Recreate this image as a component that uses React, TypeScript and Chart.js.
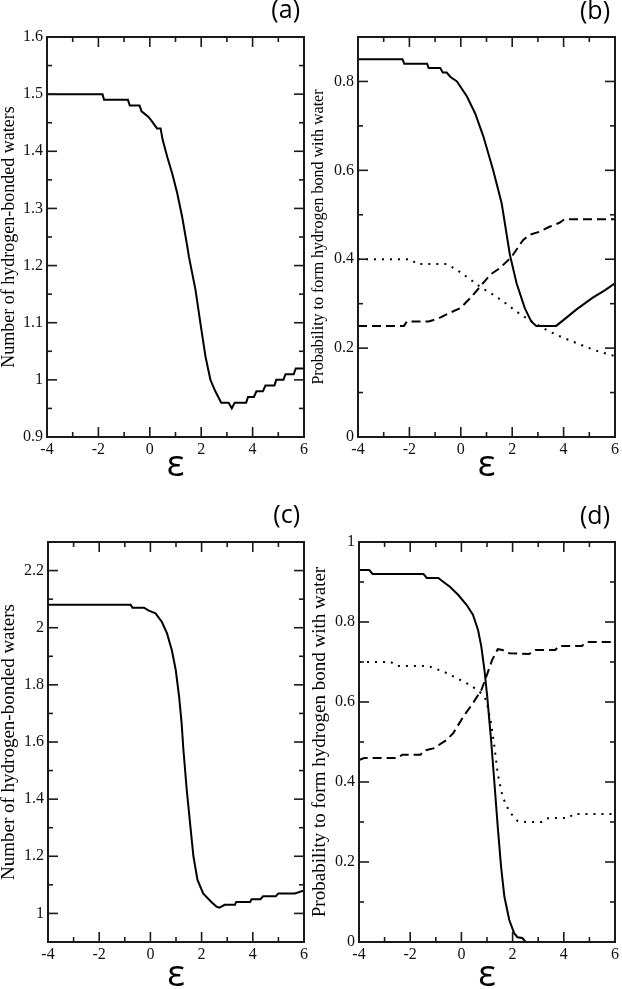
import React, { useEffect, useRef } from "react";
import { Chart, registerables } from "chart.js";

Chart.register(...registerables);

const SERIF = '"Liberation Serif", "Times New Roman", serif';
Chart.defaults.font.family = SERIF;
Chart.defaults.font.size = 16;
Chart.defaults.color = "#111";

// ---------- data ----------
const xTickLabels = [-4, -2, 0, 2, 4, 6];

// (a)
const aEps = [-4, -2, -1.84, -1.78, -0.85, -0.78, -0.4, -0.32, -0.05, 0.12, 0.28, 0.42, 0.5, 0.68, 0.88, 1.07, 1.26, 1.46, 1.52, 1.78, 1.97, 2.17, 2.36, 2.55, 2.78, 3.07, 3.19, 3.3, 3.75, 3.82, 4.05, 4.15, 4.4, 4.5, 4.85, 4.92, 5.2, 5.28, 5.6, 5.68, 6];
const aNum = [1.5, 1.5, 1.5, 1.49, 1.49, 1.48, 1.48, 1.47, 1.46, 1.45, 1.44, 1.44, 1.42, 1.39, 1.36, 1.326, 1.285, 1.233, 1.216, 1.157, 1.099, 1.04, 1.0, 0.98, 0.96, 0.96, 0.95, 0.96, 0.96, 0.97, 0.97, 0.98, 0.98, 0.99, 0.99, 1.0, 1.0, 1.01, 1.01, 1.02, 1.02];
const aYLabels = [0.9, 1, 1.1, 1.2, 1.3, 1.4, 1.5, 1.6];

// (b)
const bSolidEps = [-4, -2.27, -2.2, -1.31, -1.25, -0.8, -0.7, -0.55, -0.4, -0.15, 0.24, 0.56, 0.88, 1.26, 1.59, 1.91, 2.17, 2.49, 2.74, 2.94, 3.71, 4.1, 4.48, 5.12, 5.6, 6];
const bSolid = [0.85, 0.85, 0.84, 0.84, 0.83, 0.83, 0.82, 0.82, 0.81, 0.8, 0.766, 0.728, 0.676, 0.6, 0.526, 0.41, 0.346, 0.29, 0.26, 0.25, 0.25, 0.268, 0.286, 0.313, 0.33, 0.346];
const bDashEps = [-4, -2.21, -2.1, -1.25, -0.86, -0.41, -0.02, 0.36, 0.75, 1.14, 1.52, 1.97, 2.42, 2.68, 3.07, 3.45, 3.84, 4.03, 6];
const bDash = [0.25, 0.25, 0.26, 0.26, 0.267, 0.28, 0.29, 0.312, 0.338, 0.365, 0.38, 0.405, 0.443, 0.455, 0.462, 0.473, 0.482, 0.49, 0.49];
const bDotEps = [-4, -1.95, -1.7, -0.54, -0.15, 0.24, 0.75, 1.26, 1.65, 2.17, 2.68, 3.2, 3.71, 4.22, 4.86, 5.38, 6];
const bDot = [0.4, 0.4, 0.389, 0.389, 0.376, 0.36, 0.338, 0.32, 0.305, 0.282, 0.263, 0.245, 0.23, 0.218, 0.203, 0.192, 0.182];
const bYLabels = [0, 0.2, 0.4, 0.6, 0.8];

// (c)
const cEps = [-4, -0.77, -0.7, -0.25, -0.06, 0.2, 0.45, 0.65, 0.84, 0.99, 1.12, 1.22, 1.29, 1.42, 1.55, 1.68, 1.84, 2.06, 2.38, 2.58, 2.7, 2.9, 3.3, 3.35, 3.9, 3.95, 4.3, 4.4, 4.9, 5.0, 5.65, 6];
const cNum = [2.08, 2.08, 2.07, 2.07, 2.06, 2.05, 2.02, 1.98, 1.92, 1.852, 1.76, 1.665, 1.572, 1.432, 1.315, 1.2, 1.117, 1.07, 1.04, 1.024, 1.02, 1.03, 1.03, 1.04, 1.04, 1.05, 1.05, 1.06, 1.06, 1.07, 1.07, 1.08];
const cYLabels = [1, 1.2, 1.4, 1.6, 1.8, 2, 2.2];

// (d)
const dSolidEps = [-4, -3.6, -3.47, -1.48, -1.35, -0.9, -0.7, -0.45, -0.13, 0.2, 0.45, 0.65, 0.78, 0.9, 1.01, 1.1, 1.16, 1.29, 1.42, 1.55, 1.68, 1.87, 2.06, 2.19, 2.38, 2.51, 6];
const dSolid = [0.93, 0.93, 0.92, 0.92, 0.91, 0.91, 0.9, 0.888, 0.868, 0.843, 0.818, 0.78, 0.738, 0.68, 0.613, 0.547, 0.505, 0.397, 0.288, 0.188, 0.113, 0.055, 0.022, 0.012, 0.01, 0, 0];
const dDashEps = [-4, -3.8, -2.5, -2.31, -1.6, -1.48, -1.09, -0.77, -0.58, -0.32, 0.07, 0.45, 0.78, 0.97, 1.2, 1.42, 1.61, 1.87, 2.64, 2.9, 3.67, 3.8, 4.7, 4.89, 6];
const dDash = [0.455, 0.46, 0.46, 0.468, 0.468, 0.478, 0.484, 0.497, 0.505, 0.522, 0.563, 0.597, 0.63, 0.663, 0.705, 0.732, 0.73, 0.722, 0.72, 0.73, 0.73, 0.74, 0.74, 0.75, 0.75];
const dDotEps = [-4, -2.76, -2.5, -1.48, -1.22, -0.7, -0.19, 0.32, 0.71, 0.97, 1.16, 1.29, 1.42, 1.61, 1.87, 2.19, 2.51, 3.15, 3.41, 4.19, 4.38, 6];
const dDot = [0.7, 0.7, 0.69, 0.69, 0.688, 0.676, 0.66, 0.643, 0.626, 0.605, 0.547, 0.488, 0.42, 0.363, 0.326, 0.303, 0.3, 0.3, 0.31, 0.31, 0.32, 0.32];
const dYLabels = [0, 0.2, 0.4, 0.6, 0.8, 1];

const titleNum = "Number of hydrogen-bonded waters";
const titleProb = "Probability to form hydrogen bond with water";

// ---------- styles ----------
const SOLID: number[] = [];
const DASHED = [9, 5];
const DOTTED = [2, 6];

type Series = { eps: number[]; vals: number[]; dash: number[] };
type Spec = {
  letter: string;
  left: number;
  top: number;
  w: number;
  h: number;
  area: { left: number; right: number; top: number; bottom: number };
  letterPos: [number, number];
  yMin: number;
  yMax: number;
  yStep: number;
  yLabels: number[];
  yTitle: string;
  yTitleSize: number;
  series: Series[];
};

const panels: Spec[] = [
  {
    letter: "(a)", left: 0, top: 0, w: 311, h: 495,
    area: { left: 47, right: 306, top: 37, bottom: 437 }, letterPos: [300, 11],
    yMin: 0.9, yMax: 1.6, yStep: 0.05, yLabels: aYLabels, yTitle: titleNum, yTitleSize: 18,
    series: [{ eps: aEps, vals: aNum, dash: SOLID }],
  },
  {
    letter: "(b)", left: 311, top: 0, w: 311, h: 495,
    area: { left: 47, right: 306, top: 37, bottom: 437 }, letterPos: [299, 12],
    yMin: 0, yMax: 0.9, yStep: 0.1, yLabels: bYLabels, yTitle: titleProb, yTitleSize: 16,
    series: [
      { eps: bSolidEps, vals: bSolid, dash: SOLID },
      { eps: bDashEps, vals: bDash, dash: DASHED },
      { eps: bDotEps, vals: bDot, dash: DOTTED },
    ],
  },
  {
    letter: "(c)", left: 0, top: 495, w: 311, h: 510,
    area: { left: 48, right: 307, top: 47, bottom: 447 }, letterPos: [300, 21],
    yMin: 0.9, yMax: 2.3, yStep: 0.1, yLabels: cYLabels, yTitle: titleNum, yTitleSize: 19,
    series: [{ eps: cEps, vals: cNum, dash: SOLID }],
  },
  {
    letter: "(d)", left: 311, top: 495, w: 311, h: 510,
    area: { left: 48, right: 307, top: 47, bottom: 447 }, letterPos: [299, 22],
    yMin: 0, yMax: 1, yStep: 0.1, yLabels: dYLabels, yTitle: titleProb, yTitleSize: 19,
    series: [
      { eps: dSolidEps, vals: dSolid, dash: SOLID },
      { eps: dDashEps, vals: dDash, dash: DASHED },
      { eps: dDotEps, vals: dDot, dash: DOTTED },
    ],
  },
];

const FRAME = "#1a1a1a";

const framePlugin = {
  id: "frame",
  afterDraw(chart: any, _args: any, opts: any) {
    const { ctx, chartArea } = chart;
    const { left, right, top, bottom } = chartArea;
    ctx.save();
    ctx.strokeStyle = FRAME;
    ctx.lineWidth = 1.6;
    const seg = (x1: number, y1: number, x2: number, y2: number) => {
      ctx.beginPath();
      ctx.moveTo(x1, y1);
      ctx.lineTo(x2, y2);
      ctx.stroke();
    };
    const xs = chart.scales.x;
    xs.ticks.forEach((t: any) => {
      const px = xs.getPixelForValue(t.value);
      const len = t.label !== "" ? 10 : 5;
      seg(px, bottom, px, bottom - len);
      seg(px, top, px, top + len);
    });
    const ys = chart.scales.y;
    ys.ticks.forEach((t: any) => {
      const py = ys.getPixelForValue(t.value);
      const len = t.label !== "" ? 10 : 5;
      seg(left, py, left + len, py);
      seg(right, py, right - len, py);
    });
    ctx.lineWidth = 2;
    ctx.strokeRect(left, top, right - left, bottom - top);
    ctx.fillStyle = "#000";
    ctx.font = '25px "Open Sans"';
    ctx.textAlign = "right";
    ctx.textBaseline = "middle";
    ctx.fillText(opts.letter, opts.x, opts.y);
    ctx.restore();
  },
};

function labelFor(list: number[], v: number): string {
  const hit = list.find((l) => Math.abs(l - v) < 1e-6);
  return hit === undefined ? "" : String(hit);
}

function Panel({ spec }: { spec: Spec }) {
  const ref = useRef<HTMLCanvasElement | null>(null);
  useEffect(() => {
    if (!ref.current) return;
    const chart = new Chart(ref.current, {
      type: "line",
      data: {
        datasets: spec.series.map((s) => ({
          data: s.eps.map((x, i) => ({ x, y: s.vals[i] })),
          borderColor: "#000",
          borderWidth: 2,
          borderDash: s.dash,
          pointRadius: 0,
          tension: 0,
          fill: false,
        })),
      },
      options: {
        animation: false,
        responsive: false,
        events: [],
        layout: {
          padding: { left: 0, top: spec.area.top, right: spec.w - spec.area.right, bottom: 0 },
        },
        plugins: {
          legend: { display: false },
          tooltip: { enabled: false },
          frame: { letter: spec.letter, x: spec.letterPos[0], y: spec.letterPos[1] },
        } as any,
        scales: {
          x: {
            type: "linear",
            min: -4,
            max: 6,
            afterFit: (s: any) => {
              s.height = spec.h - spec.area.bottom;
            },
            grid: { display: false, drawTicks: false },
            border: { display: false },
            ticks: {
              stepSize: 1,
              autoSkip: false,
              maxRotation: 0,
              padding: 3,
              color: "#111",
              font: { family: SERIF, size: 16 },
              callback: (v: any) => labelFor(xTickLabels, Number(v)),
            },
            title: {
              display: true,
              text: "ε",
              color: "#000",
              font: { family: '"Open Sans", sans-serif', size: 37 },
              padding: { top: 0, bottom: 7 },
            },
          },
          y: {
            type: "linear",
            min: spec.yMin,
            max: spec.yMax,
            afterFit: (s: any) => {
              s.width = spec.area.left;
            },
            grid: { display: false, drawTicks: false },
            border: { display: false },
            ticks: {
              stepSize: spec.yStep,
              autoSkip: false,
              padding: 4,
              color: "#111",
              font: { family: SERIF, size: 16 },
              callback: (v: any) => labelFor(spec.yLabels, Number(v)),
            },
            title: {
              display: true,
              text: spec.yTitle,
              color: "#000",
              font: { family: SERIF, size: spec.yTitleSize, lineHeight: 1 },
              padding: { top: 0, bottom: 0 },
            },
          },
        },
      } as any,
      plugins: [framePlugin as any],
    });
    return () => chart.destroy();
  }, [spec]);
  return (
    <div style={{ position: "absolute", left: spec.left, top: spec.top, width: spec.w, height: spec.h }}>
      <canvas ref={ref} width={spec.w} height={spec.h} style={{ display: "block", width: spec.w, height: spec.h }} />
    </div>
  );
}

export default function App() {
  return (
    <div
      style={{
        position: "fixed",
        left: 0,
        top: 0,
        width: 622,
        height: 989,
        overflow: "hidden",
        background: "#fff",
      }}
    >
      {panels.map((p) => (
        <Panel key={p.letter} spec={p} />
      ))}
    </div>
  );
}
